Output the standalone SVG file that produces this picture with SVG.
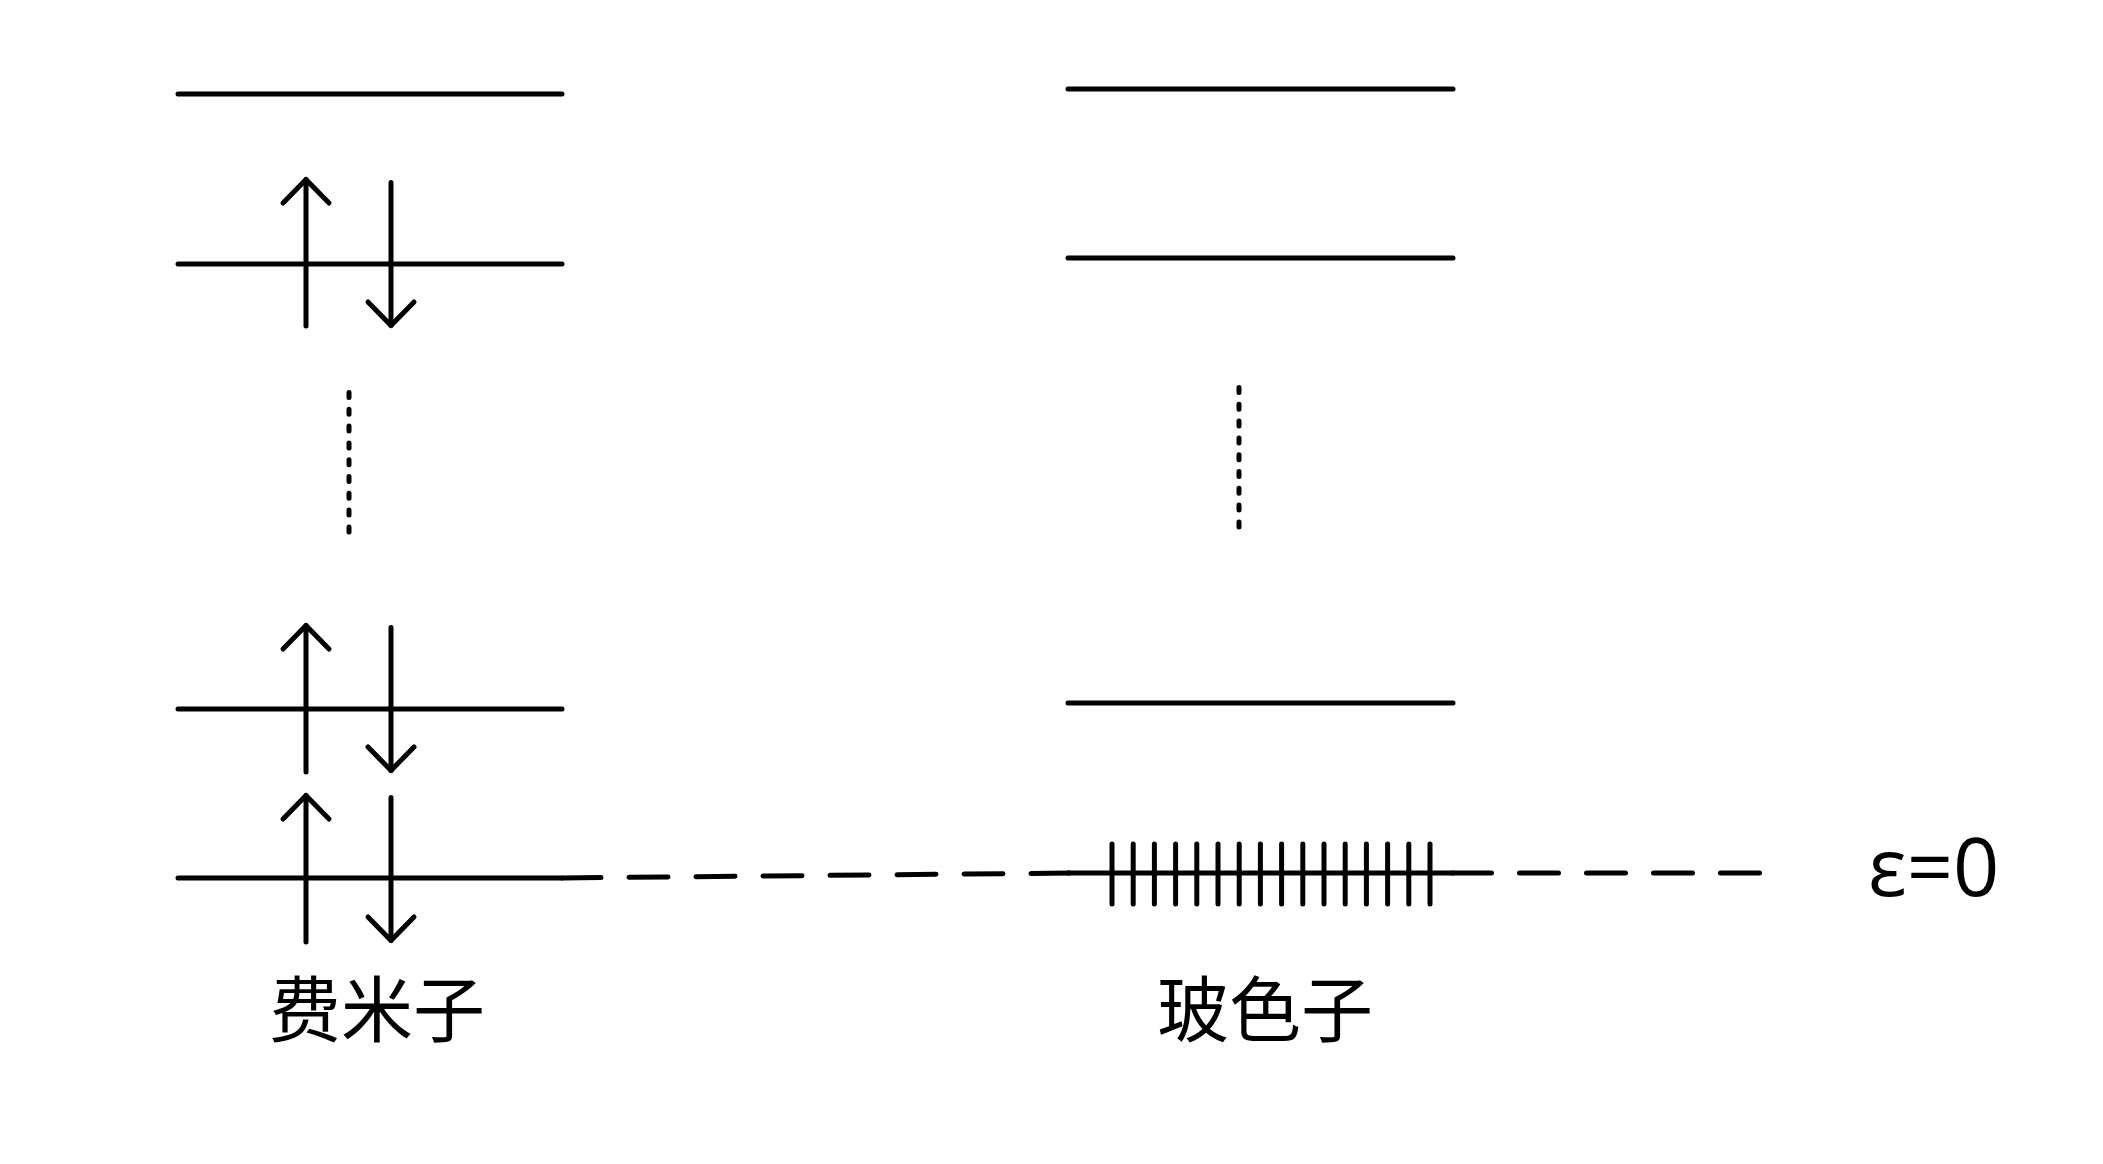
<svg xmlns="http://www.w3.org/2000/svg" width="2103" height="1164" viewBox="0 0 2103 1164">
<style>
.lv{stroke:#000;stroke-width:5;stroke-linecap:round;fill:none}
.ar{stroke:#000;stroke-width:5;stroke-linecap:round;stroke-linejoin:round;fill:none}
.dash{stroke:#000;stroke-width:5;stroke-linecap:round;fill:none;stroke-dasharray:39 28}
.dot{stroke:#000;stroke-width:5;stroke-linecap:round;fill:none;stroke-dasharray:5 11.8}
.tick{stroke:#000;stroke-width:5;stroke-linecap:round}
.cjk{font-family:"Noto Sans CJK SC","Noto Sans CJK JP",sans-serif;font-size:72px;fill:#000}
.eps{font-family:"Open Sans","DejaVu Sans",sans-serif;font-size:81px;fill:#000}
</style>
<defs>
<g id="up"><path class="ar" d="M0,2.5 V149"/><path class="ar" d="M-23,26 L0,2.5 L23,26"/></g>
<g id="down"><path class="ar" d="M0,-145.5 V-2.5"/><path class="ar" d="M-23,-26 L0,-2.5 L23,-26"/></g>
</defs>
<rect width="2103" height="1164" fill="#fff"/>
<g id="fermion">
<line class="lv" x1="178" y1="94" x2="562" y2="94"/>
<line class="lv" x1="178" y1="264" x2="562" y2="264"/>
<line class="lv" x1="178" y1="709" x2="562" y2="709"/>
<line class="lv" x1="178" y1="878" x2="562" y2="878"/>
<path class="dot" d="M349,392.5 V532"/>
<use href="#up" x="306" y="177"/>
<use href="#down" x="391" y="328"/>
<use href="#up" x="306" y="623"/>
<use href="#down" x="391" y="773"/>
<use href="#up" x="306" y="793"/>
<use href="#down" x="391" y="943"/>
<text class="cjk" x="377" y="1036" text-anchor="middle">费米子</text>
</g>
<g id="boson">
<line class="lv" x1="1068" y1="89" x2="1453" y2="89"/>
<line class="lv" x1="1068" y1="258" x2="1453" y2="258"/>
<line class="lv" x1="1068" y1="703" x2="1453" y2="703"/>
<line class="lv" x1="1068" y1="873" x2="1453" y2="873"/>
<path class="dot" d="M1239,387.5 V527"/>
<g id="ticks">
<line class="tick" x1="1112" y1="844" x2="1112" y2="904"/>
<line class="tick" x1="1133.2" y1="844" x2="1133.2" y2="904"/>
<line class="tick" x1="1154.4" y1="844" x2="1154.4" y2="904"/>
<line class="tick" x1="1175.6" y1="844" x2="1175.6" y2="904"/>
<line class="tick" x1="1196.8" y1="844" x2="1196.8" y2="904"/>
<line class="tick" x1="1218" y1="844" x2="1218" y2="904"/>
<line class="tick" x1="1239.2" y1="844" x2="1239.2" y2="904"/>
<line class="tick" x1="1260.4" y1="844" x2="1260.4" y2="904"/>
<line class="tick" x1="1281.6" y1="844" x2="1281.6" y2="904"/>
<line class="tick" x1="1302.8" y1="844" x2="1302.8" y2="904"/>
<line class="tick" x1="1324" y1="844" x2="1324" y2="904"/>
<line class="tick" x1="1345.2" y1="844" x2="1345.2" y2="904"/>
<line class="tick" x1="1366.4" y1="844" x2="1366.4" y2="904"/>
<line class="tick" x1="1387.6" y1="844" x2="1387.6" y2="904"/>
<line class="tick" x1="1408.8" y1="844" x2="1408.8" y2="904"/>
<line class="tick" x1="1430" y1="844" x2="1430" y2="904"/>
</g>
<text class="cjk" x="1265" y="1036" text-anchor="middle">玻色子</text>
</g>
<g id="connectors">
<path class="dash" d="M562,878 L1070,873"/>
<path class="dash" d="M1452.5,873 L1760,873"/>
</g>
<g id="zero-label">
<text class="eps" x="1868" y="896">ε=0</text>
</g>
</svg>
